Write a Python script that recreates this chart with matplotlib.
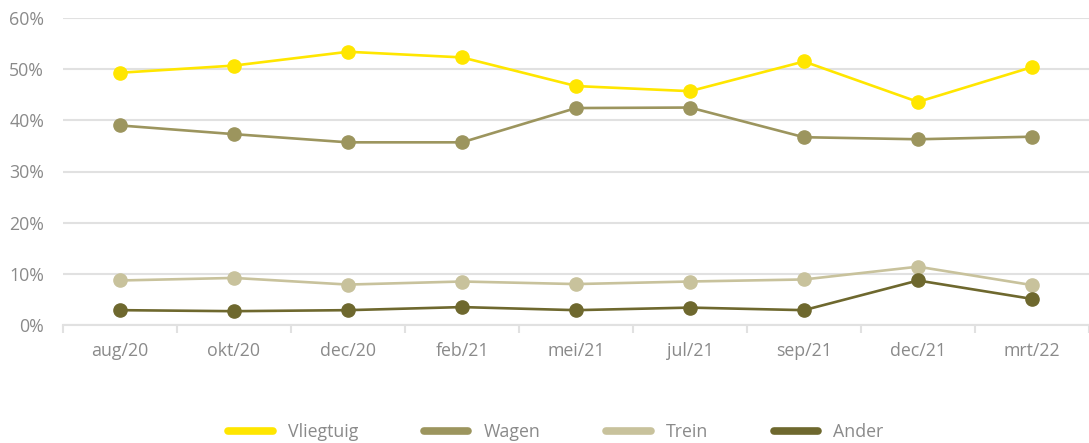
import matplotlib.pyplot as plt
from matplotlib.lines import Line2D

# Share per transport mode (%), per survey wave
periods = ["aug/20", "okt/20", "dec/20", "feb/21", "mei/21", "jul/21", "sep/21", "dec/21", "mrt/22"]
vliegtuig = [49.3, 50.7, 53.4, 52.3, 46.7, 45.7, 51.5, 43.6, 50.4]
wagen = [39.0, 37.3, 35.7, 35.7, 42.4, 42.5, 36.7, 36.3, 36.8]
trein = [8.7, 9.2, 7.9, 8.5, 8.0, 8.5, 8.9, 11.4, 7.8]
ander = [2.9, 2.7, 2.9, 3.5, 2.9, 3.4, 2.9, 8.7, 5.1]

names = ["Vliegtuig", "Wagen", "Trein", "Ander"]
colors = ["#FFE600", "#9C955E", "#C8C29C", "#6E682E"]

plt.rcParams['font.family'] = ['Open Sans', 'DejaVu Sans']
grey = "#8a8a8a"
gridc = "#e1e1e1"
fs = 12.8

fig = plt.figure(figsize=(10.89, 4.43), dpi=100)
ax = fig.add_axes([63 / 1089, 118 / 443, 1 - 63 / 1089, 307 / 443])

x = list(range(len(periods)))
for vals, name, c in zip([vliegtuig, wagen, trein, ander], names, colors):
    ax.plot(x, vals, color=c, lw=1.9, marker='o', ms=9.5, label=name, zorder=3)

ax.set_ylim(0, 60)
ax.set_xlim(-0.5, 8.41)
ax.set_yticks(range(0, 61, 10))
ax.set_yticklabels([f"{v}%" for v in range(0, 61, 10)])
ax.set_xticks(x)
ax.set_xticklabels(periods)
ax.set_xticks([i + 0.5 for i in range(-1, 9)], minor=True)

ax.grid(axis='y', color=gridc, lw=1.5, zorder=0)
ax.set_axisbelow(True)
for s in ['top', 'right', 'left']:
    ax.spines[s].set_visible(False)
ax.spines['bottom'].set_color(gridc)
ax.spines['bottom'].set_linewidth(1.5)

ax.tick_params(axis='y', length=0, pad=13.5, labelsize=fs, labelcolor=grey)
ax.tick_params(axis='x', which='major', length=0, pad=12.5, labelsize=fs, labelcolor=grey)
ax.tick_params(axis='x', which='minor', length=6, width=1.5, color=gridc)

handles = [Line2D([0], [0], color=c, lw=5.5, solid_capstyle='round') for c in colors]
fig.legend(handles, names, loc='center', bbox_to_anchor=(556 / 1089, 11 / 443), ncol=4,
           frameon=False, fontsize=fs, labelcolor=grey, handlelength=2.5,
           columnspacing=3.7, handletextpad=0.85)

fig.savefig("out.png", dpi=100)
